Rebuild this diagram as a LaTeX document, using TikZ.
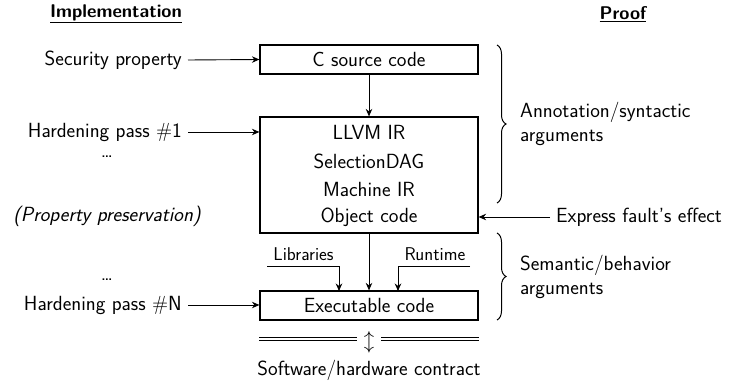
\documentclass[tikz,border=0pt]{standalone}
\usetikzlibrary{arrows.meta,decorations.pathreplacing}
\begin{document}
\begin{tikzpicture}[x=1pt,y=-1pt,
  every node/.style={font=\sffamily\fontsize{20.5}{24}\selectfont},
  box/.style={draw, line width=1.2pt, minimum width=218pt, inner sep=0pt},
  lbl/.style={inner sep=0pt, inner xsep=6pt},
  small/.style={font=\sffamily\fontsize{18.5}{20}\selectfont, inner sep=0pt},
  arr/.style={line width=0.9pt, -{Stealth[length=7.5pt,width=6.5pt]}},
  brc/.style={line width=1pt, decorate, decoration={brace, amplitude=9pt}},
  dotsnode/.style={inner sep=0pt},
  head/.style={font=\sffamily\bfseries\fontsize{18.4}{20}\selectfont, inner sep=0pt}]
\useasboundingbox (0,0) rectangle (740,382);

% column headings
\node[head] (himpl) at (116,14) {\underline{Implementation}};
\node[head] (hproof) at (623,14) {\underline{Proof}};

% compilation chain
\node[box, minimum height=29pt] (src) at (369,59.5) {C source code};
\node[box, minimum height=116pt] (ir) at (369,175) {};
\node (llvm) at (369,132) {LLVM IR};
\node (sdag) at (369,161) {SelectionDAG};
\node (mir)  at (369,189) {Machine IR};
\node (obj)  at (369,217) {Object code};
\node[box, minimum height=29pt] (exe) at (369,305.5) {Executable code};

\draw[arr] (src.south) -- (ir.north);
\draw[arr] (ir.south) -- (exe.north);

% libraries and runtime
\node[small] (lib) at (303.5,254) {Libraries};
\node[small] (rt) at (435,254) {Runtime};
\coordinate (libstart) at (267,266);
\coordinate (libin) at (339,291);
\coordinate (rtstart) at (470,266);
\coordinate (rtin) at (398,291);
\draw[arr] (libstart) -| (libin);
\draw[arr] (rtstart) -| (rtin);

% implementation side
\node[lbl, anchor=east] (sp) at (188,60) {Security property};
\node[lbl, anchor=east] (hp1) at (188,132) {Hardening pass \#1};
\node[dotsnode] (dots1) at (107,157) {\dots};
\node (pp) at (107,216) {\itshape (Property preservation)};
\node[dotsnode] (dots2) at (107,280) {\dots};
\node[lbl, anchor=east] (hpn) at (188,305) {Hardening pass \#N};
\draw[arr] (sp.east) -- (src.west);
\draw[arr] (hp1.east) -- (hp1.east -| ir.west);
\draw[arr] (hpn.east) -- (hpn.east -| exe.west);

% proof side
\node[lbl, anchor=west] (efe) at (550,217) {Express fault's effect};
\draw[arr] (efe.west) -- (efe.west -| ir.east);
\draw[brc] (497,45) -- (497,203);
\node[anchor=west, align=left, inner sep=0pt] (ann) at (520,124) {Annotation/syntactic\\arguments};
\draw[brc] (497,233) -- (497,320);
\node[anchor=west, align=left, inner sep=0pt] (sem) at (520,277) {Semantic/behavior\\arguments};

% software/hardware contract
\node[inner sep=0pt] (ud) at (369,342) {$\updownarrow$};
\draw[line width=0.7pt, double, double distance=2pt] (exe.west |- 0,339) -- (357,339);
\draw[line width=0.7pt, double, double distance=2pt] (381,339) -- (exe.east |- 0,339);
\node (shc) at (369,370) {Software/hardware contract};
\end{tikzpicture}
\end{document}
